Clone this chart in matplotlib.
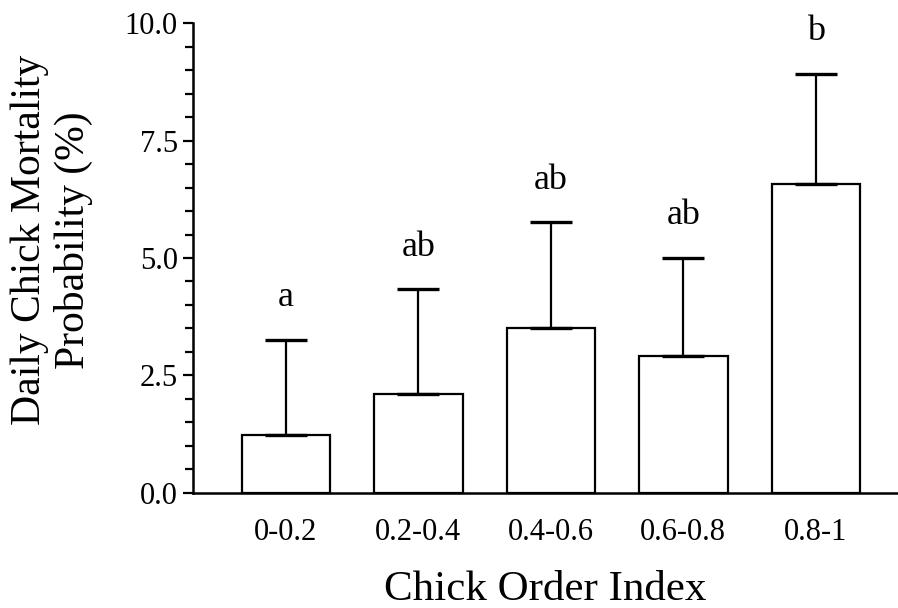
import matplotlib.pyplot as plt
import numpy as np
from matplotlib.ticker import MultipleLocator

plt.rcParams['font.family'] = ['Liberation Serif', 'DejaVu Serif']

# values
groups = ['0-0.2', '0.2-0.4', '0.4-0.6', '0.6-0.8', '0.8-1']
mortality = [1.23, 2.10, 3.50, 2.91, 6.58]
upper_err = [2.02, 2.23, 2.26, 2.10, 2.35]
letters = ['a', 'ab', 'ab', 'ab', 'b']

fig = plt.figure(figsize=(8.98, 6.08), dpi=100)
ax = fig.add_axes([0.2149, 0.1896, 0.785, 0.7721])

x = np.arange(len(groups))
ax.bar(x, mortality, width=0.668, color='white', edgecolor='black',
       linewidth=1.6, clip_on=False,
       yerr=[np.zeros(len(x)), upper_err],
       error_kw=dict(ecolor='black', elinewidth=1.6, capsize=15, capthick=2.4))

for i in range(len(x)):
    ax.text(x[i], mortality[i] + upper_err[i] + 0.72, letters[i],
            ha='center', va='baseline', fontsize=26)

ax.set_xlim(-0.702, 4.62)
ax.set_ylim(0, 10)
ax.yaxis.set_major_locator(MultipleLocator(2.5))
ax.yaxis.set_minor_locator(MultipleLocator(0.5))
ax.yaxis.set_major_formatter(plt.FormatStrFormatter('%.1f'))
ax.set_xticks(x)
ax.set_xticklabels(groups)

ax.spines['top'].set_visible(False)
ax.spines['right'].set_visible(False)
ax.spines['left'].set_linewidth(1.8)
ax.spines['bottom'].set_linewidth(1.8)

ax.tick_params(axis='y', which='major', length=7.5, width=1.6, pad=3.5, labelsize=22)
ax.tick_params(axis='y', which='minor', length=6, width=1.6)
ax.tick_params(axis='x', length=0, pad=18, labelsize=22)

ax.set_xlabel('Chick Order Index', fontsize=31, labelpad=17)
ax.set_ylabel('Daily Chick Mortality\nProbability (%)', fontsize=30,
              linespacing=1.15, va='center')
ax.yaxis.set_label_coords(-0.2, 0.538)

fig.savefig('out.png', dpi=100)
